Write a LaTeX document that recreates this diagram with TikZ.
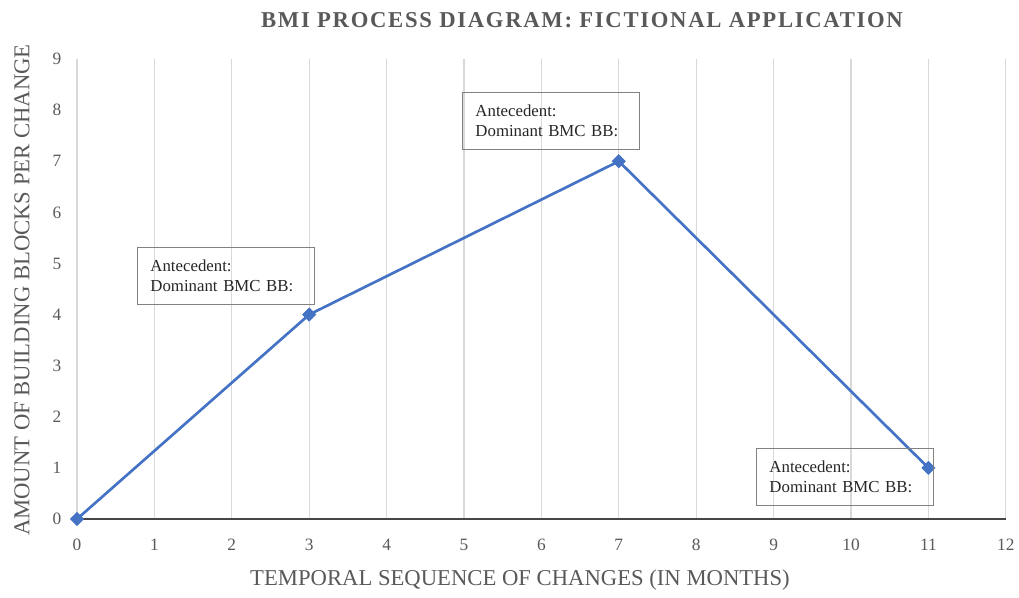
\documentclass[tikz,border=0pt]{standalone}
\usepackage{fontspec}
\usetikzlibrary{shapes.geometric}
\setmainfont{Liberation Serif}
\definecolor{series}{RGB}{68,114,196}
\definecolor{gridgray}{RGB}{217,217,217}
\definecolor{axisgray}{RGB}{70,70,70}
\definecolor{labelgray}{RGB}{89,89,89}
\definecolor{boxgray}{RGB}{130,130,130}
\begin{document}
\begin{tikzpicture}[x=0.75pt,y=-0.75pt,
  gridline/.style={draw=gridgray, line width=0.9pt},
  axisline/.style={draw=axisgray, line width=1.1pt},
  ticklabel/.style={text=labelgray, font=\fontsize{13}{15}\selectfont, inner sep=0pt},
  axistitle/.style={text=labelgray, font=\fontsize{17}{20}\selectfont, inner sep=0pt},
  charttitle/.style={text=labelgray, font=\fontsize{17}{20}\selectfont\bfseries\addfontfeature{LetterSpace=7.5}, inner sep=0pt},
  datapt/.style={diamond, fill=series, inner sep=0pt, minimum size=10.5pt},
  series line/.style={draw=series, line width=2pt, line join=round},
  note/.style={draw=boxgray, line width=0.7pt, anchor=north west, align=left,
    font=\fontsize{12.6}{15}\selectfont, text=black!85,
    minimum width=132.75pt, minimum height=42.75pt, text width=113.25pt, inner xsep=9.75pt, inner ysep=0pt}
]
\useasboundingbox (0,0) rectangle (1019,597);

% chart title
\node[charttitle] (title) at (582,20) {BMI PROCESS DIAGRAM: FICTIONAL APPLICATION};

% data area: origin at (77,519) px, 77.4 px per month, 51.11 px per block
\begin{scope}[shift={(57.75pt,-389.25pt)}, x=58.05pt, y=38.33pt]
  \foreach \i in {0,...,12} \draw[gridline] (\i,0) -- (\i,9);
  \draw[axisline] (0,0) -- (12,0);
  \foreach \i in {0,...,12} \node[ticklabel] (xt\i) at (\i,-0.5) {\i};
  \foreach \j in {0,...,9} \node[ticklabel] (yt\j) at (-0.26,\j) {\j};

  \node[datapt] (p0) at (0,0) {};
  \node[datapt] (p1) at (3,4) {};
  \node[datapt] (p2) at (7,7) {};
  \node[datapt] (p3) at (11,1) {};
  \draw[series line] (p0.center) -- (p1.center) -- (p2.center) -- (p3.center);
  \foreach \p in {p0,p1,p2,p3} \node[datapt] at (\p) {};
\end{scope}

% axis titles
\node[axistitle] (xtitle) at (520,580) {TEMPORAL SEQUENCE OF CHANGES (IN MONTHS)};
\node[axistitle, rotate=90] (ytitle) at (22,290) {AMOUNT OF BUILDING BLOCKS PER CHANGE};

% annotation boxes
\node[note] (n1) at (137,247) {Antecedent:\\Dominant BMC BB:};
\node[note] (n2) at (462,92) {Antecedent:\\Dominant BMC BB:};
\node[note] (n3) at (756,448) {Antecedent:\\Dominant BMC BB:};
\end{tikzpicture}
\end{document}
